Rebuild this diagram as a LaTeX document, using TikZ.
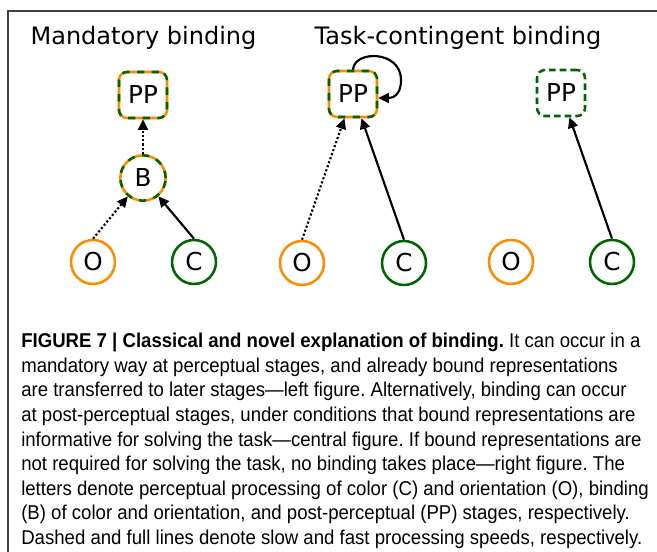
\documentclass[tikz,border=0pt]{standalone}
\usepackage{fontspec}
\setmainfont{DejaVu Sans}
\newfontfamily\capfont{Liberation Sans}[FakeStretch=0.93]
\usetikzlibrary{arrows.meta}
\definecolor{morange}{RGB}{255,140,0}
\definecolor{mgreen}{RGB}{0,100,0}
\frenchspacing
\begin{document}
\begin{tikzpicture}[x=0.75pt,y=-0.75pt,
  title/.style={font=\fontsize{18}{22}\selectfont, anchor=base, inner sep=0pt},
  lbl/.style={font=\fontsize{18.5}{22}\selectfont, inner sep=0pt},
  ocirc/.style={lbl, circle, draw=morange, line width=1.9pt, minimum size=33pt},
  ccirc/.style={lbl, circle, draw=mgreen, line width=1.9pt, minimum size=33pt},
  bcirc/.style={lbl, circle, draw=morange, line width=1.9pt, minimum size=34pt,
     postaction={draw=mgreen, line width=1.9pt, dash pattern=on 5.5pt off 5.5pt}},
  ppbox/.style={lbl, rectangle, rounded corners=6pt, draw=morange, line width=1.9pt,
     minimum width=36pt, minimum height=34.5pt,
     postaction={draw=mgreen, line width=1.9pt, dash pattern=on 5.5pt off 5.5pt}},
  ppgreen/.style={lbl, rectangle, rounded corners=6pt, draw=mgreen, line width=1.9pt,
     minimum width=36pt, minimum height=34.5pt, dash pattern=on 5pt off 3pt},
  fast/.style={line width=1.6pt, -{Triangle[length=8pt,width=7.5pt]}},
  slow/.style={line width=1.6pt, dash pattern=on 1.6pt off 1.6pt, -{Triangle[length=8pt,width=7.5pt]}},
  capline/.style={anchor=base west, inner sep=0pt, font=\capfont\fontsize{15}{18}\selectfont},
  frame/.style={draw=black!75, line width=1pt}
]
\useasboundingbox (0,0) rectangle (657,552);
\draw[frame] (8,552) -- (8,11) -- (657,11);

% titles
\node[title] (t1) at (143.5,45) {Mandatory binding};
\node[title] (t2) at (458,45) {Task-contingent binding};

% left column
\node[ppbox] (pp1) at (143,95) {PP};
\node[bcirc] (b) at (143,178) {B};
\node[ocirc] (o1) at (93,262) {O};
\node[ccirc] (c1) at (194,262) {C};
\draw[slow] (o1.north) -- (b);
\draw[fast] (c1.north) -- (b);
\draw[slow] (b.north) -- (pp1.south);

% middle column
\node[ppbox] (pp2) at (353,94) {PP};
\node[ocirc] (o2) at (302,263) {O};
\node[ccirc] (c2) at (404,263) {C};
\draw[slow] (o2.north) -- (pp2);
\draw[fast] (c2.north) -- (pp2);
\draw[fast] (pp2.north) .. controls (354,50) and (401,50) .. (401,80)
   .. controls (401,96) and (392,98) .. ([yshift=-3pt]pp2.east);

% right column
\node[ppgreen] (pp3) at (561,93) {PP};
\node[ocirc] (o3) at (511,262) {O};
\node[ccirc] (c3) at (612,262) {C};
\draw[fast] (c3.north) -- (pp3);

% caption
\node[capline] (l1) at (21,348) {\bfseries FIGURE 7 | Classical and novel explanation of binding.\mdseries{} It can occur in a};
\node[capline] (l2) at (21,372.5) {mandatory way at perceptual stages, and already bound representations};
\node[capline] (l3) at (21,397) {are transferred to later stages—left figure. Alternatively, binding can occur};
\node[capline] (l4) at (21,421.5) {at post-perceptual stages, under conditions that bound representations are};
\node[capline] (l5) at (21,446) {informative for solving the task—central figure. If bound representations are};
\node[capline] (l6) at (21,470.5) {not required for solving the task, no binding takes place—right figure. The};
\node[capline] (l7) at (21,495) {letters denote perceptual processing of color (C) and orientation (O), binding};
\node[capline] (l8) at (21,519.5) {(B) of color and orientation, and post-perceptual (PP) stages, respectively.};
\node[capline] (l9) at (21,544) {Dashed and full lines denote slow and fast processing speeds, respectively.};
\end{tikzpicture}
\end{document}
